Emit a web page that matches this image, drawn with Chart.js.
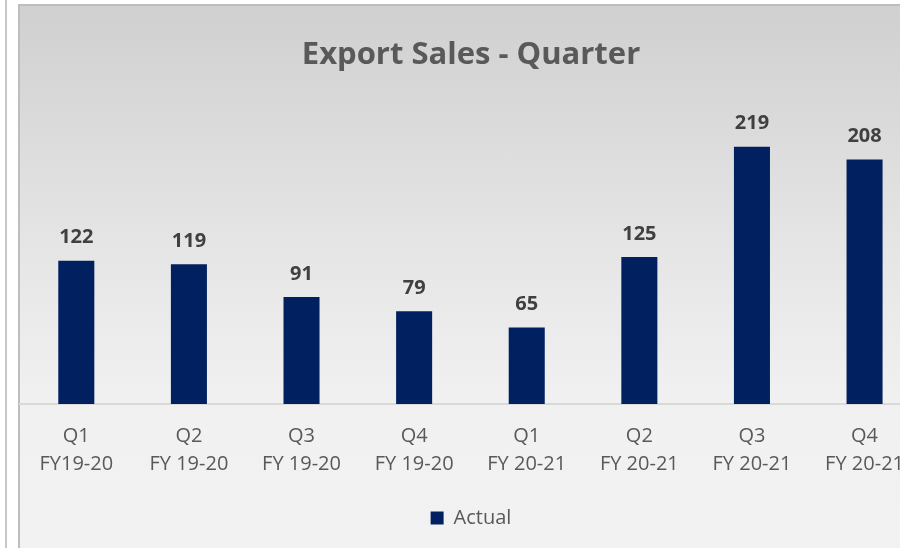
<!DOCTYPE html>
<html>
<head>
<meta charset="utf-8">
<script src="https://cdn.jsdelivr.net/npm/chart.js@4/dist/chart.umd.min.js"></script>
<style>
  html, body { margin: 0; padding: 0; background: #fff; overflow: hidden; width: 900px; height: 548px; }
  #edge { position: absolute; left: 5px; top: 0; width: 2px; height: 548px; background: #c8c8c8; }
  #box {
    position: absolute; left: 18px; top: 4px; width: 920px; height: 560px;
    border: 2px solid #bdbdbd; box-sizing: border-box;
    background: linear-gradient(to bottom, #d0d0d0 0px, #e6e6e6 250px, #f1f1f1 400px, #f2f2f2 560px);
  }
  #wrap { position: absolute; left: 0; top: 0; width: 922px; height: 548px; }
</style>
</head>
<body>
<div id="edge"></div>
<div id="box"></div>
<div id="wrap"><canvas id="chart" width="922" height="548"></canvas></div>
<script>
const quarters = [
  ["Q1", "FY19-20"], ["Q2", "FY 19-20"], ["Q3", "FY 19-20"], ["Q4", "FY 19-20"],
  ["Q1", "FY 20-21"], ["Q2", "FY 20-21"], ["Q3", "FY 20-21"], ["Q4", "FY 20-21"]
];
const actual = [122, 119, 91, 79, 65, 125, 219, 208];
const fontName = "'Open Sans', 'Noto Sans', sans-serif";

// 値ラベル（バーの上）
const valueLabels = {
  id: "valueLabels",
  afterDatasetsDraw(chart) {
    const ctx = chart.ctx;
    const meta = chart.getDatasetMeta(0);
    ctx.save();
    ctx.font = "bold 20px " + fontName;
    ctx.fillStyle = "#404040";
    ctx.textAlign = "center";
    ctx.textBaseline = "bottom";
    meta.data.forEach((bar, i) => {
      ctx.fillText(String(actual[i]), bar.x, bar.y - 13);
    });
    ctx.restore();
  },
};

const ctx = document.getElementById("chart").getContext("2d");
new Chart(ctx, {
  type: "bar",
  data: {
    labels: quarters,
    datasets: [
      {
        label: "Actual",
        data: actual,
        backgroundColor: "#002060",
        borderWidth: 0,
        categoryPercentage: 1,
        barPercentage: 0.32,
      },
    ],
  },
  options: {
    responsive: false,
    animation: false,
    layout: { padding: { left: 20, right: 0, top: 0, bottom: 10 } },
    scales: {
      x: {
        grid: { display: false, drawTicks: false },
        border: { display: true, color: "#d9d9d9", width: 2 },
        ticks: {
          color: "#595959",
          font: { family: fontName, size: 20, lineHeight: 1.4 },
          padding: 18,
          maxRotation: 0,
          autoSkip: false,
        },
      },
      y: {
        display: false,
        min: 0,
        max: 250,
      },
    },
    plugins: {
      title: {
        display: true,
        text: "Export Sales - Quarter",
        color: "#595959",
        font: { family: fontName, size: 31, weight: "bold" },
        padding: { top: 37, bottom: 36 },
      },
      legend: {
        display: true,
        position: "bottom",
        labels: {
          color: "#595959",
          font: { family: fontName, size: 20 },
          boxWidth: 13,
          boxHeight: 13,
          padding: 12,
        },
      },
      tooltip: { enabled: false },
    },
  },
  plugins: [valueLabels],
});
</script>
</body>
</html>
